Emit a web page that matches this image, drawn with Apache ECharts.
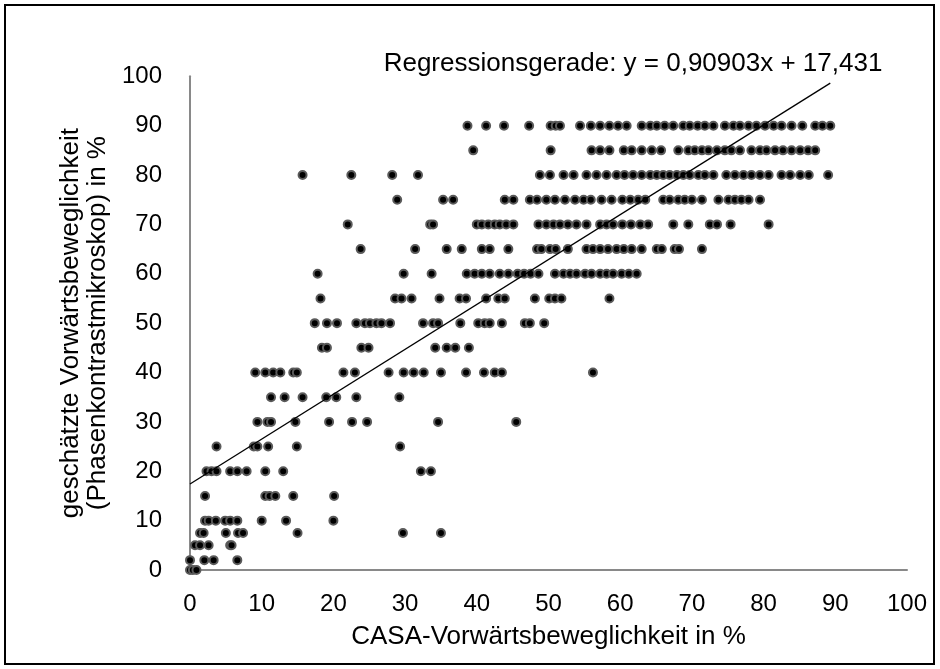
<!DOCTYPE html>
<html>
<head>
<meta charset="utf-8">
<script src="https://cdn.jsdelivr.net/npm/echarts@6/dist/echarts.min.js"></script>
<style>
html,body{margin:0;padding:0;background:#fff;}
#c{width:940px;height:669px;}
</style>
</head>
<body>
<div id="c"></div>
<script>
// ---- Data (x = CASA-Vorwärtsbeweglichkeit, grouped by estimated value y) ----
const x90 = [38.7, 41.3, 43.8, 47.3, 50.3, 51.0, 51.6, 54.4, 55.9, 57.2, 58.5, 59.7, 60.9, 63.0, 64.2, 65.1, 66.2, 67.4, 68.8, 69.7, 70.8, 71.8, 73.0, 74.6, 75.8, 76.7, 77.9, 79.0, 80.2, 81.4, 82.5, 83.9, 85.4, 87.2, 88.2, 89.3];
const x85 = [39.5, 50.3, 56.0, 57.2, 58.5, 60.5, 61.6, 63.0, 64.4, 65.7, 68.1, 69.5, 70.4, 71.4, 72.3, 73.5, 74.6, 75.5, 76.7, 78.3, 79.5, 80.4, 81.6, 82.7, 83.9, 85.1, 86.2, 87.2];
const x80 = [15.7, 22.5, 28.2, 31.8, 48.8, 50.2, 52.1, 53.5, 55.3, 56.7, 58.1, 59.5, 60.6, 61.8, 63.0, 64.2, 65.1, 66.0, 66.9, 67.9, 68.8, 69.7, 70.9, 71.8, 73.0, 74.8, 76.0, 77.2, 78.3, 79.5, 80.7, 82.5, 83.7, 85.1, 86.3, 89.0];
const x75 = [28.9, 35.3, 36.7, 43.9, 45.1, 47.4, 48.4, 49.7, 50.9, 52.3, 53.7, 54.9, 55.9, 57.4, 58.8, 60.3, 61.4, 62.5, 63.5, 66.0, 66.9, 68.1, 69.0, 70.0, 71.4, 73.7, 75.1, 76.0, 76.9, 77.9, 79.5];
const x70 = [22.0, 33.5, 33.9, 40.0, 40.7, 41.6, 42.5, 43.2, 44.1, 45.1, 48.6, 49.7, 50.7, 51.6, 52.7, 53.9, 55.3, 57.2, 58.1, 59.0, 60.3, 61.5, 62.8, 63.9, 67.4, 69.5, 72.5, 73.5, 75.4, 80.7];
const x65 = [23.8, 31.4, 35.8, 37.9, 40.7, 41.8, 44.4, 48.4, 49.0, 50.2, 51.0, 52.7, 55.3, 56.2, 57.2, 58.3, 59.5, 60.5, 61.6, 63.0, 65.1, 65.8, 67.6, 68.2, 71.4];
const x60 = [17.8, 29.8, 33.7, 38.6, 39.7, 40.7, 41.8, 43.2, 44.4, 45.7, 46.6, 47.5, 48.6, 50.9, 52.1, 53.0, 53.9, 55.1, 56.0, 57.2, 58.1, 59.0, 60.2, 61.2, 62.3];
const x55 = [18.2, 28.6, 29.5, 30.9, 34.8, 37.6, 38.5, 41.3, 43.0, 43.9, 48.1, 50.1, 50.9, 51.8, 58.5];
const x50 = [17.4, 19.1, 20.5, 23.2, 24.4, 25.1, 26.0, 26.7, 27.9, 32.5, 33.9, 34.6, 37.7, 40.2, 41.1, 41.8, 43.5, 46.7, 47.4, 49.4];
const x45 = [18.4, 19.1, 23.9, 24.9, 34.2, 35.8, 37.0, 38.9];
const x40 = [9.1, 10.5, 11.6, 12.6, 14.4, 14.9, 21.4, 23.0, 27.7, 29.8, 31.2, 32.6, 35.0, 38.5, 41.0, 42.5, 43.5, 56.2];
const x35 = [11.3, 13.2, 15.7, 19.0, 20.4, 23.2, 29.2];
const x30 = [9.4, 10.8, 11.3, 14.7, 19.4, 22.6, 24.7, 34.6, 45.5];
const x25 = [3.7, 8.9, 9.4, 10.9, 14.9, 29.3];
const x20 = [2.3, 3.0, 3.7, 5.6, 6.6, 7.9, 10.5, 13.0, 32.2, 33.6];
const x15 = [2.1, 10.5, 11.1, 11.9, 14.4, 20.1];
const x10 = [2.1, 2.6, 3.6, 4.9, 5.6, 6.6, 10.0, 13.4, 20.0];
const x7_5 = [1.4, 1.9, 5.0, 6.7, 7.4, 15.0, 29.7, 35.0];
const x5 = [0.7, 1.4, 2.6, 5.6, 5.8];
const x2 = [0, 2.0, 3.3, 6.6];
const x0 = [0, 0.4, 0.9];

const yLevels = [90, 85, 80, 75, 70, 65, 60, 55, 50, 45, 40, 35, 30, 25, 20, 15, 10, 7.5, 5, 2, 0];
const xGroups = [x90, x85, x80, x75, x70, x65, x60, x55, x50, x45, x40, x35, x30, x25, x20, x15, x10, x7_5, x5, x2, x0];

const slope = 0.90903;
const intercept = 17.431;
const lineXRange = [0, 89.3];

const xTicks = [0, 10, 20, 30, 40, 50, 60, 70, 80, 90, 100];
const yTicks = [0, 10, 20, 30, 40, 50, 60, 70, 80, 90, 100];

const titleText = 'Regressionsgerade: y = 0,90903x + 17,431';
const xName = 'CASA-Vorwärtsbeweglichkeit in %';
const yName = 'geschätzte Vorwärtsbeweglichkeit\n(Phasenkontrastmikroskop) in %';

// ---- Build ----
const points = [];
yLevels.forEach((y, i) => xGroups[i].forEach(x => points.push([x, y])));
const linePts = lineXRange.map(x => [x, slope * x + intercept]);

const FONT = 'Liberation Sans, Arial, sans-serif';
const chart = echarts.init(document.getElementById('c'), null, {renderer: 'canvas'});
chart.setOption({
  animation: false,
  backgroundColor: '#fff',
  title: {
    text: titleText,
    left: 628,
    top: 46,
    textAlign: 'center',
    textStyle: {fontFamily: FONT, fontSize: 26, fontWeight: 'normal', color: '#000'}
  },
  grid: {left: 190, right: 33, top: 76.3, bottom: 99, containLabel: false},
  xAxis: {
    type: 'value', min: 0, max: 100, interval: 10,
    name: xName, nameLocation: 'middle', nameGap: 54,
    nameTextStyle: {fontFamily: FONT, fontSize: 26, color: '#000'},
    axisLine: {show: true, onZero: false, lineStyle: {color: '#898989', width: 2}},
    axisTick: {show: false},
    splitLine: {show: false},
    axisLabel: {fontFamily: FONT, fontSize: 24, color: '#000', margin: 22,
      formatter: v => xTicks.includes(v) ? String(v) : ''}
  },
  yAxis: {
    type: 'value', min: 0, max: 100, interval: 10,
    name: yName, nameLocation: 'middle', nameGap: 52, nameRotate: 90,
    nameTextStyle: {fontFamily: FONT, fontSize: 26, color: '#000', lineHeight: 27},
    axisLine: {show: true, onZero: false, lineStyle: {color: '#898989', width: 2}},
    axisTick: {show: false},
    splitLine: {show: false},
    axisLabel: {fontFamily: FONT, fontSize: 24, color: '#000', margin: 28,
      formatter: v => yTicks.includes(v) ? String(v) : ''}
  },
  graphic: [{
    type: 'rect', shape: {x: 5, y: 5, width: 929, height: 659},
    style: {fill: 'none', stroke: '#000', lineWidth: 2}, silent: true, z: 100
  }],
  series: [{
    type: 'scatter',
    data: points,
    symbol: 'circle',
    symbolSize: 8,
    itemStyle: {color: '#000', borderColor: '#5a5a5a', borderWidth: 2, opacity: 1},
    z: 2
  }, {
    type: 'line',
    data: linePts,
    symbol: 'none',
    lineStyle: {color: '#000', width: 1.3},
    z: 3
  }]
});
</script>
</body>
</html>
